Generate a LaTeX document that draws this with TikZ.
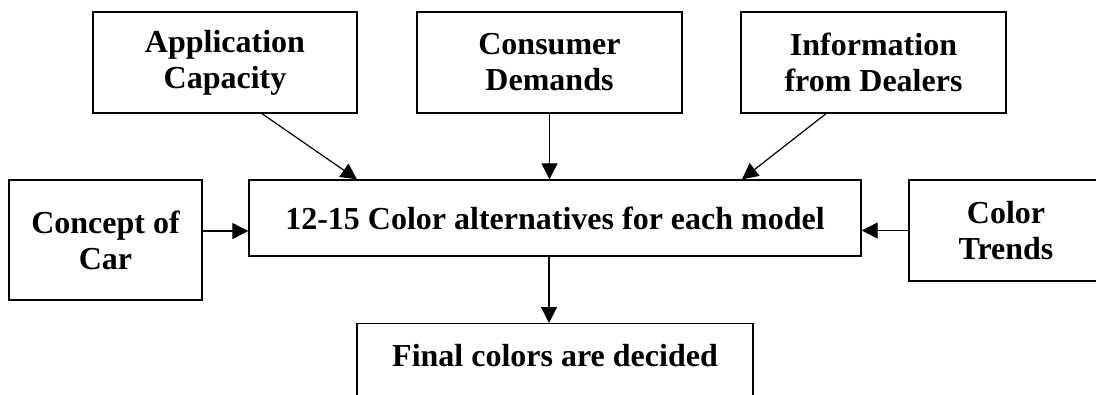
\documentclass[tikz,border=0pt]{standalone}
\usepackage{fontspec}
\setmainfont{Liberation Serif}
\usetikzlibrary{arrows.meta}
\begin{document}
\begin{tikzpicture}[x=1pt, y=-1pt,
    box/.style = {draw, line width=1.4pt, align=center, inner sep=0pt,
                  font=\bfseries\fontsize{32}{36}\selectfont},
    arr/.style = {line width=1.2pt, -{Triangle[length=16pt,width=16pt]}}]
    \useasboundingbox (0,0) rectangle (1096,394);

    \node[box, minimum width=264pt, minimum height=101pt] (app) at (225, 62.5) {Application\\Capacity};
    \node[box, minimum width=265pt, minimum height=101pt] (cons) at (549.5, 62.5) {Consumer\\Demands};
    \node[box, minimum width=265pt, minimum height=101pt] (info) at (873.5, 62.5) {Information\\from Dealers};

    \node[box, minimum width=612pt, minimum height=76pt] (alt) at (555, 218) {12-15 Color alternatives for each model};
    \node[box, minimum width=193pt, minimum height=120pt] (concept) at (105.5, 240) {Concept of\\Car};
    \node[box, minimum width=194pt, minimum height=101pt] (trends) at (1006, 230.5) {Color\\Trends};

    \node[box, minimum width=396pt, minimum height=100pt, anchor=north] (final) at (555, 323) {Final colors are decided\\ ~};

    \draw[arr] ([xshift=37pt]app.south) -- ([xshift=-198pt]alt.north);
    \draw[arr] (cons.south) -- (cons.south |- alt.north);
    \draw[arr] ([xshift=-47.5pt]info.south) -- ([xshift=187pt]alt.north);
    \draw[arr] ([yshift=9pt]concept.east) -- ([yshift=9pt]concept.east -| alt.west);
    \draw[arr] (trends.west) -- (trends.west -| alt.east);
    \draw[arr] ([xshift=-6pt]alt.south) -- ([xshift=-6pt]alt.south |- final.north);
\end{tikzpicture}
\end{document}
